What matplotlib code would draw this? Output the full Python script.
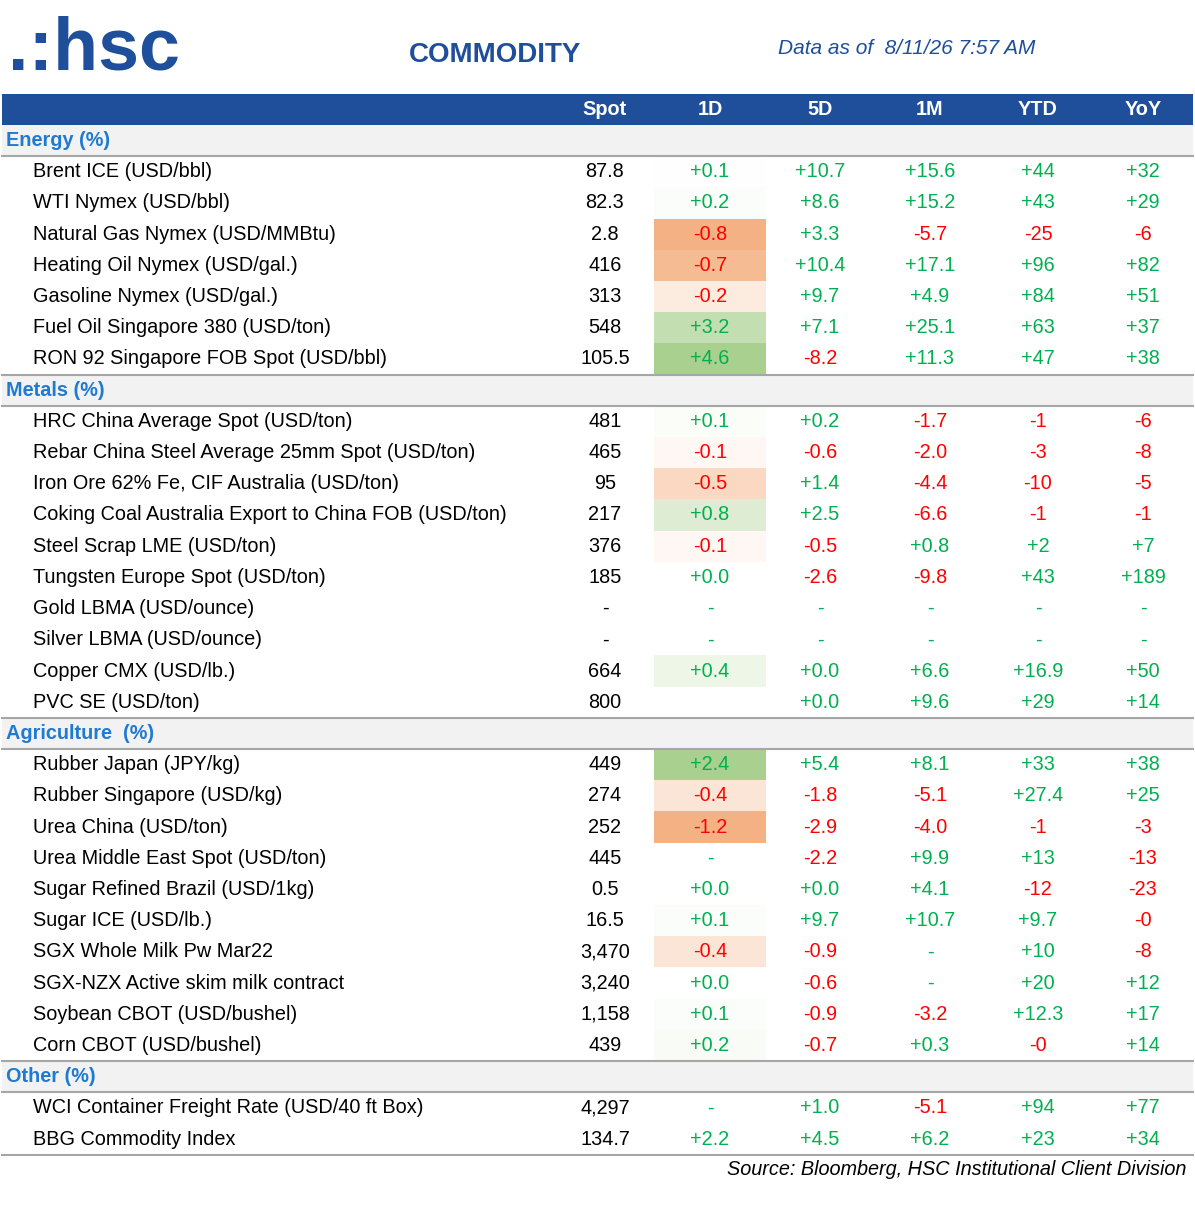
import matplotlib
matplotlib.use("Agg")
import matplotlib.pyplot as plt
from matplotlib.patches import Rectangle

plt.rcParams['font.family'] = ['Liberation Sans', 'DejaVu Sans']

columns = ["Spot", "1D", "5D", "1M", "YTD", "YoY"]
col_x = [605, 710, 820, 930, 1038, 1143]

energy_names = ["Brent ICE (USD/bbl)", "WTI Nymex (USD/bbl)", "Natural Gas Nymex (USD/MMBtu)",
                "Heating Oil Nymex (USD/gal.)", "Gasoline Nymex (USD/gal.)",
                "Fuel Oil Singapore 380 (USD/ton)", "RON 92 Singapore FOB Spot (USD/bbl)"]
energy_spot = ["87.8", "82.3", "2.8", "416", "313", "548", "105.5"]
energy_1d = ["+0.1", "+0.2", "-0.8", "-0.7", "-0.2", "+3.2", "+4.6"]
energy_5d = ["+10.7", "+8.6", "+3.3", "+10.4", "+9.7", "+7.1", "-8.2"]
energy_1m = ["+15.6", "+15.2", "-5.7", "+17.1", "+4.9", "+25.1", "+11.3"]
energy_ytd = ["+44", "+43", "-25", "+96", "+84", "+63", "+47"]
energy_yoy = ["+32", "+29", "-6", "+82", "+51", "+37", "+38"]

metals_names = ["HRC China Average Spot (USD/ton)", "Rebar China Steel Average 25mm Spot (USD/ton)",
                "Iron Ore 62% Fe, CIF Australia (USD/ton)",
                "Coking Coal Australia Export to China FOB (USD/ton)", "Steel Scrap LME (USD/ton)",
                "Tungsten Europe Spot (USD/ton)", "Gold LBMA (USD/ounce)", "Silver LBMA (USD/ounce)",
                "Copper CMX (USD/lb.)", "PVC SE (USD/ton)"]
metals_spot = ["481", "465", "95", "217", "376", "185", "-", "-", "664", "800"]
metals_1d = ["+0.1", "-0.1", "-0.5", "+0.8", "-0.1", "+0.0", "-", "-", "+0.4", ""]
metals_5d = ["+0.2", "-0.6", "+1.4", "+2.5", "-0.5", "-2.6", "-", "-", "+0.0", "+0.0"]
metals_1m = ["-1.7", "-2.0", "-4.4", "-6.6", "+0.8", "-9.8", "-", "-", "+6.6", "+9.6"]
metals_ytd = ["-1", "-3", "-10", "-1", "+2", "+43", "-", "-", "+16.9", "+29"]
metals_yoy = ["-6", "-8", "-5", "-1", "+7", "+189", "-", "-", "+50", "+14"]

agri_names = ["Rubber Japan (JPY/kg)", "Rubber Singapore (USD/kg)", "Urea China (USD/ton)",
              "Urea Middle East Spot (USD/ton)", "Sugar Refined Brazil (USD/1kg)", "Sugar ICE (USD/lb.)",
              "SGX Whole Milk Pw Mar22", "SGX-NZX Active skim milk contract",
              "Soybean CBOT (USD/bushel)", "Corn CBOT (USD/bushel)"]
agri_spot = ["449", "274", "252", "445", "0.5", "16.5", "3,470", "3,240", "1,158", "439"]
agri_1d = ["+2.4", "-0.4", "-1.2", "-", "+0.0", "+0.1", "-0.4", "+0.0", "+0.1", "+0.2"]
agri_5d = ["+5.4", "-1.8", "-2.9", "-2.2", "+0.0", "+9.7", "-0.9", "-0.6", "-0.9", "-0.7"]
agri_1m = ["+8.1", "-5.1", "-4.0", "+9.9", "+4.1", "+10.7", "-", "-", "-3.2", "+0.3"]
agri_ytd = ["+33", "+27.4", "-1", "+13", "-12", "+9.7", "+10", "+20", "+12.3", "-0"]
agri_yoy = ["+38", "+25", "-3", "-13", "-23", "-0", "-8", "+12", "+17", "+14"]

other_names = ["WCI Container Freight Rate (USD/40 ft Box)", "BBG Commodity Index"]
other_spot = ["4,297", "134.7"]
other_1d = ["-", "+2.2"]
other_5d = ["+1.0", "+4.5"]
other_1m = ["-5.1", "+6.2"]
other_ytd = ["+94", "+23"]
other_yoy = ["+77", "+34"]

# (title, names, columns, heat scale (pos max, neg max) or None)
sections = [
    ("Energy (%)", energy_names, [energy_spot, energy_1d, energy_5d, energy_1m, energy_ytd, energy_yoy], (4.6, 0.8)),
    ("Metals (%)", metals_names, [metals_spot, metals_1d, metals_5d, metals_1m, metals_ytd, metals_yoy], (2.0, 1.0)),
    ("Agriculture  (%)", agri_names, [agri_spot, agri_1d, agri_5d, agri_1m, agri_ytd, agri_yoy], (2.4, 1.2)),
    ("Other (%)", other_names, [other_spot, other_1d, other_5d, other_1m, other_ytd, other_yoy], None),
]

BLUE = "#1F4E9A"
SEC_BLUE = "#1F7AD2"
GREEN = "#00B050"
RED = "#FF0000"


def heat(v, scale):
    if scale is None:
        return None
    try:
        x = float(v)
    except ValueError:
        return None
    if x >= 0:
        t = min(x / scale[0], 1.0)
        c1 = (0xA9 / 255, 0xD0 / 255, 0x8E / 255)
    else:
        t = min(-x / scale[1], 1.0)
        c1 = (0xF4 / 255, 0xB1 / 255, 0x83 / 255)
    return tuple(1 + (b - 1) * t for b in c1)


def val_color(v):
    if v.startswith("-") and len(v) > 1:
        return RED
    return GREEN


fig = plt.figure(figsize=(11.95, 12.2), dpi=100)
ax = fig.add_axes([0, 0, 1, 1])
ax.set_xlim(0, 1195)
ax.set_ylim(1220, 0)
ax.axis("off")

fs = 14.3

# header
ax.text(8, 50, ".:hsc", color=BLUE, fontsize=53, fontweight="bold", va="center", ha="left")
ax.text(495, 55, "COMMODITY", color=BLUE, fontsize=20, fontweight="bold", va="center", ha="center")
ax.text(907, 48, "Data as of  8/11/26 7:57 AM", color=BLUE, fontsize=15, style="italic",
        va="center", ha="center")

ax.add_patch(Rectangle((2, 94), 1191, 31, color=BLUE, lw=0))
for c, x in zip(columns, col_x):
    ax.text(x, 109.5, c, color="white", fontsize=fs, fontweight="bold", ha="center", va="center")

pitch = 31.2
y = 125
for title, names, cols, scale in sections:
    ax.add_patch(Rectangle((2, y), 1191, pitch, color="#F2F2F2", lw=0))
    ax.text(6, y + pitch / 2, title, color=SEC_BLUE, fontsize=fs, fontweight="bold", va="center")
    ax.plot([2, 1193], [y + pitch, y + pitch], color="#A6A6A6", lw=1.5)
    y += pitch
    for i, name in enumerate(names):
        cy = y + pitch / 2
        ax.text(33, cy, name, color="black", fontsize=fs, va="center")
        for j, (col, x) in enumerate(zip(cols, col_x)):
            v = col[i]
            if j == 0:
                ax.text(x, cy, v, color="black", fontsize=fs, ha="center", va="center")
                continue
            if j == 1:
                bg = heat(v, scale)
                if bg is not None:
                    ax.add_patch(Rectangle((654, y), 112, pitch, color=bg, lw=0))
            ax.text(x, cy, v, color=val_color(v), fontsize=fs, ha="center", va="center")
        y += pitch
    ax.plot([2, 1193], [y, y], color="#A6A6A6", lw=1.5)

ax.text(1186, y + 15, "Source: Bloomberg, HSC Institutional Client Division", fontsize=fs,
        style="italic", ha="right", va="center")

fig.savefig("out.png", dpi=100)
